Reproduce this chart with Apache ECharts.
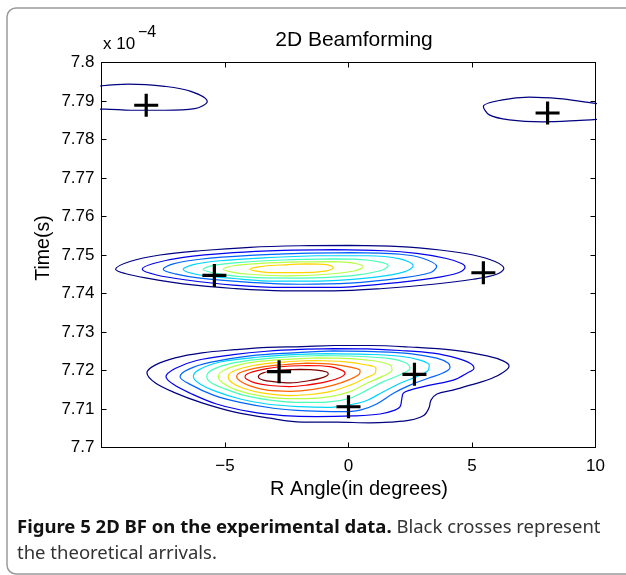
<!DOCTYPE html>
<html><head><meta charset="utf-8">
<script src="https://cdn.jsdelivr.net/npm/echarts@6.0.0/dist/echarts.min.js"></script>
<style>html,body{margin:0;padding:0;background:#fff}#c{width:626px;height:575px}</style>
</head><body><div id="c"></div>
<script>
// ---- data (x: angle in degrees, y: time in units of 1e-4 s) ----
const xTicks = [-10, -5, 0, 5, 10];
const yTicks = [7.70, 7.71, 7.72, 7.73, 7.74, 7.75, 7.76, 7.77, 7.78, 7.79, 7.80];
// 10 contour levels, jet colormap
const levelColors = ['#000080','#0000f1','#0063ff','#00d4ff','#47ffb8','#b8ff47','#ffd400','#ff6300','#f80000','#800000'];

// theoretical arrivals (black crosses)
const arrivals = [[-8.19,7.7889],[8.06,7.7869],[-5.43,7.7447],[5.46,7.7454],[-2.81,7.7197],[2.67,7.7190],[0.0,7.7106]];

// top-left and top-right single contours (level 0)
const topLeft = [[-10.2,7.7938],[-8.91,7.7944],[-7.44,7.7938],[-6.38,7.7925],[-5.72,7.7899],[-6.23,7.7880],[-7.44,7.7876],[-8.81,7.7876],[-9.87,7.7879],[-10.2,7.7879]];
const topRight = [[10.2,7.7892],[9.62,7.7897],[8.53,7.7906],[7.32,7.7910],[6.24,7.7903],[5.46,7.7886],[5.70,7.7864],[6.51,7.7851],[7.86,7.7846],[9.21,7.7849],[10.2,7.7853]];

// middle cluster (around 7.745), levels 0..6
const midL0 = [[0.06,7.7525],[2.09,7.7522],[3.70,7.7513],[5.05,7.7500],[5.93,7.7483],[6.29,7.7465],[6.00,7.7450],[5.05,7.7437],[3.43,7.7424],[1.41,7.7413],[-0.61,7.7407],[-2.64,7.7407],[-4.66,7.7413],[-6.69,7.7425],[-8.17,7.7440],[-9.05,7.7452],[-9.43,7.7463],[-8.85,7.7483],[-7.63,7.7500],[-6.01,7.7511],[-3.99,7.7520],[-1.96,7.7524],[0.06,7.7525]];
const midL1 = [[-0.61,7.7514],[1.41,7.7511],[2.76,7.7504],[3.97,7.7491],[4.58,7.7478],[4.72,7.7468],[4.45,7.7454],[3.43,7.7440],[1.41,7.7425],[-0.61,7.7416],[-2.64,7.7416],[-4.66,7.7422],[-6.55,7.7435],[-7.77,7.7448],[-8.35,7.7463],[-7.90,7.7478],[-6.69,7.7494],[-4.66,7.7506],[-2.64,7.7512],[-0.61,7.7514]];
const midL2 = [[0.06,7.7506],[2.09,7.7502],[3.03,7.7491],[3.57,7.7470],[3.30,7.7454],[2.09,7.7440],[0.06,7.7427],[-1.96,7.7424],[-3.99,7.7429],[-6.01,7.7440],[-7.02,7.7451],[-7.50,7.7463],[-7.09,7.7477],[-6.01,7.7489],[-3.99,7.7499],[-1.96,7.7504],[0.06,7.7506]];
const midL3 = [[-1.29,7.7498],[0.74,7.7498],[2.09,7.7490],[2.62,7.7472],[2.29,7.7457],[1.01,7.7442],[-0.88,7.7433],[-2.91,7.7432],[-4.66,7.7439],[-6.01,7.7448],[-6.69,7.7463],[-6.28,7.7475],[-5.20,7.7485],[-3.31,7.7493],[-1.29,7.7498]];
const midL4 = [[-0.61,7.7490],[0.74,7.7487],[1.61,7.7472],[1.28,7.7459],[0.06,7.7446],[-1.96,7.7440],[-3.72,7.7441],[-5.07,7.7449],[-5.88,7.7463],[-5.47,7.7473],[-4.39,7.7481],[-2.64,7.7487],[-0.61,7.7490]];
const midL5 = [[-0.61,7.7483],[0.20,7.7479],[0.60,7.7470],[0.26,7.7459],[-0.88,7.7450],[-2.50,7.7446],[-3.99,7.7450],[-4.66,7.7455],[-5.07,7.7463],[-4.66,7.7472],[-3.58,7.7478],[-1.96,7.7482],[-0.61,7.7483]];
const midL6 = [[-1.69,7.7477],[-0.88,7.7475],[-0.61,7.7467],[-0.88,7.7459],[-1.96,7.7454],[-3.04,7.7454],[-3.72,7.7458],[-3.99,7.7463],[-3.58,7.7470],[-2.77,7.7474],[-1.69,7.7477]];

// lower cluster (around 7.72), levels 0..9
const lowL0 = [[-0.55,7.7265],[0.87,7.7265],[2.49,7.7261],[4.23,7.7253],[5.61,7.7238],[6.26,7.7225],[6.50,7.7212],[5.85,7.7181],[4.92,7.7162],[4.23,7.7149],[3.58,7.7139],[3.34,7.7123],[3.26,7.7103],[3.06,7.7084],[2.49,7.7071],[1.68,7.7066],[0.87,7.7064],[-0.47,7.7066],[-1.88,7.7066],[-3.26,7.7077],[-4.60,7.7092],[-5.93,7.7116],[-7.02,7.7142],[-7.83,7.7168],[-8.16,7.7194],[-7.83,7.7214],[-7.02,7.7233],[-5.93,7.7246],[-4.60,7.7254],[-3.26,7.7260],[-1.88,7.7262],[-0.55,7.7265]];
const lowL1 = [[-0.61,7.7257],[0.74,7.7256],[2.09,7.7252],[3.43,7.7245],[4.38,7.7232],[4.92,7.7219],[5.08,7.7206],[4.79,7.7193],[4.24,7.7175],[3.30,7.7162],[2.49,7.7149],[2.22,7.7141],[2.15,7.7123],[2.09,7.7106],[1.88,7.7097],[1.28,7.7087],[0.20,7.7082],[-1.29,7.7080],[-2.64,7.7083],[-3.99,7.7093],[-5.34,7.7113],[-6.41,7.7141],[-7.09,7.7164],[-7.39,7.7184],[-7.02,7.7205],[-6.15,7.7226],[-4.66,7.7241],[-3.31,7.7250],[-1.96,7.7255],[-0.61,7.7257]];
const lowL2 = [[-0.61,7.7251],[1.01,7.7249],[2.49,7.7244],[3.57,7.7232],[4.04,7.7219],[4.11,7.7208],[3.84,7.7194],[3.23,7.7180],[2.49,7.7162],[1.82,7.7141],[1.14,7.7113],[0.47,7.7097],[-0.34,7.7093],[-1.69,7.7095],[-3.04,7.7102],[-4.39,7.7117],[-5.47,7.7136],[-6.35,7.7162],[-6.82,7.7184],[-6.48,7.7203],[-5.61,7.7221],[-3.99,7.7238],[-2.23,7.7246],[-0.61,7.7251]];
const lowL3 = [[-0.88,7.7244],[0.74,7.7242],[2.09,7.7237],[2.89,7.7227],[3.27,7.7214],[3.23,7.7201],[2.83,7.7186],[2.09,7.7167],[1.41,7.7145],[0.74,7.7122],[-0.01,7.7110],[-0.88,7.7104],[-1.96,7.7106],[-3.31,7.7113],[-4.39,7.7126],[-5.34,7.7145],[-6.01,7.7165],[-6.28,7.7184],[-6.08,7.7201],[-5.20,7.7222],[-3.58,7.7235],[-2.23,7.7241],[-0.88,7.7244]];
const lowL4 = [[-1.15,7.7239],[0.33,7.7237],[1.68,7.7231],[2.35,7.7219],[2.49,7.7206],[2.15,7.7191],[1.41,7.7171],[0.74,7.7149],[0.06,7.7128],[-0.88,7.7118],[-1.96,7.7117],[-3.18,7.7123],[-4.26,7.7136],[-5.07,7.7154],[-5.57,7.7169],[-5.74,7.7184],[-5.54,7.7201],[-4.66,7.7220],[-3.04,7.7233],[-1.15,7.7239]];
const lowL5 = [[-1.29,7.7233],[0.06,7.7231],[1.14,7.7224],[1.71,7.7213],[1.76,7.7201],[1.41,7.7186],[0.74,7.7167],[0.06,7.7145],[-0.75,7.7132],[-1.69,7.7127],[-2.50,7.7127],[-3.58,7.7134],[-4.53,7.7149],[-5.07,7.7167],[-5.27,7.7184],[-5.07,7.7200],[-4.12,7.7219],[-2.77,7.7228],[-1.29,7.7233]];
const lowL6 = [[-1.42,7.7226],[-0.21,7.7223],[0.67,7.7215],[1.11,7.7206],[1.09,7.7194],[0.67,7.7180],[0.06,7.7162],[-0.75,7.7145],[-1.69,7.7137],[-2.37,7.7135],[-3.45,7.7141],[-4.26,7.7154],[-4.73,7.7169],[-4.87,7.7184],[-4.66,7.7198],[-3.85,7.7213],[-2.64,7.7222],[-1.42,7.7226]];
const lowL7 = [[-1.69,7.7219],[-0.61,7.7216],[0.13,7.7208],[0.47,7.7200],[0.44,7.7191],[0.06,7.7177],[-0.61,7.7162],[-1.42,7.7151],[-2.37,7.7146],[-3.31,7.7149],[-3.99,7.7160],[-4.39,7.7173],[-4.53,7.7184],[-4.33,7.7196],[-3.58,7.7208],[-2.64,7.7215],[-1.69,7.7219]];
const lowL8 = [[-1.69,7.7213],[-0.75,7.7210],[-0.28,7.7201],[-0.14,7.7193],[-0.34,7.7182],[-0.88,7.7171],[-1.69,7.7162],[-2.37,7.7158],[-3.18,7.7161],[-3.79,7.7168],[-4.12,7.7177],[-4.19,7.7184],[-3.99,7.7194],[-3.31,7.7205],[-2.50,7.7211],[-1.69,7.7213]];
const lowL9 = [[-1.96,7.7203],[-1.29,7.7201],[-0.88,7.7196],[-0.82,7.7191],[-1.02,7.7182],[-1.56,7.7174],[-2.37,7.7168],[-3.04,7.7171],[-3.45,7.7175],[-3.65,7.7184],[-3.45,7.7194],[-2.91,7.7200],[-1.96,7.7203]];

const contourLines = [
  [topLeft,0],[topRight,0],
  [midL0,0],[midL1,1],[midL2,2],[midL3,3],[midL4,4],[midL5,5],[midL6,6],
  [lowL0,0],[lowL1,1],[lowL2,2],[lowL3,3],[lowL4,4],[lowL5,5],[lowL6,6],[lowL7,7],[lowL8,8],[lowL9,9]
];

// ---- chart ----
const chart = echarts.init(document.getElementById('c'), null, {renderer:'canvas'});
const FONT = '"Liberation Sans", Arial, Helvetica, sans-serif';
const CAP = '"Noto Sans", "Open Sans", sans-serif';

function fmtX(v){ if (v === xTicks[0]) return ''; return v < 0 ? '\u2212' + Math.abs(v) : String(v); }
function fmtY(v){ return String(+(+v).toFixed(2)); }

const series = contourLines.map(([d, lv]) => ({
  type:'line', data:d, showSymbol:false, smooth:0.35, clip:true, silent:true,
  lineStyle:{color:levelColors[lv], width:1.2}, z:2
}));
series.push({
  type:'scatter', data:arrivals, z:5, silent:true,
  symbol:'path://M10.4,0H13.6V10.4H24V13.6H13.6V24H10.4V13.6H0V10.4H10.4Z',
  symbolSize:[24,23], itemStyle:{color:'#000', opacity:1}
});

// caption measurement
const mc = document.createElement('canvas').getContext('2d');
const capBold = 'Figure 5 2D BF on the experimental data.';
const capReg1 = ' Black crosses represent';
const capReg2 = 'the theoretical arrivals.';
const capSize = 18.5;
mc.font = 'bold ' + capSize + 'px "Noto Sans"';
const boldW = mc.measureText(capBold).width;

const axisCommon = {
  axisLine:{show:true, onZero:false, lineStyle:{color:'#000', width:1}},
  axisTick:{show:true, inside:true, length:5, lineStyle:{color:'#000', width:1}},
  splitLine:{show:false}
};

chart.setOption({
  animation:false,
  backgroundColor:'#fff',
  grid:{left:101.5, right:30.5, top:62.5, bottom:127.5, containLabel:false},
  xAxis:[
    Object.assign({type:'value', position:'bottom', min:xTicks[0], max:xTicks[xTicks.length-1], interval:5,
      axisLabel:{show:true, formatter:fmtX, color:'#000', fontSize:17, fontFamily:FONT, margin:10, showMinLabel:true, showMaxLabel:true}}, axisCommon),
    Object.assign({type:'value', position:'top', min:xTicks[0], max:xTicks[xTicks.length-1], interval:5,
      axisLabel:{show:false}}, axisCommon)
  ],
  yAxis:[
    Object.assign({type:'value', position:'left', min:yTicks[0], max:yTicks[yTicks.length-1], interval:0.01,
      axisLabel:{show:true, formatter:fmtY, color:'#000', fontSize:17, fontFamily:FONT, margin:7, showMinLabel:true, showMaxLabel:true}}, axisCommon),
    Object.assign({type:'value', position:'right', min:yTicks[0], max:yTicks[yTicks.length-1], interval:0.01,
      axisLabel:{show:false}}, axisCommon)
  ],
  series:series,
  graphic:[
    {type:'rect', silent:true, shape:{x:7, y:8, width:640, height:566, r:9}, style:{fill:'none', stroke:'#9a9a9a', lineWidth:1.5}},
    {type:'text', silent:true, x:354, y:40, style:{text:'2D Beamforming', font:'21px ' + FONT, fill:'#000', textAlign:'center', textVerticalAlign:'middle'}},
    {type:'text', silent:true, x:103, y:44, style:{text:'x 10', font:'17px ' + FONT, fill:'#000', textAlign:'left', textVerticalAlign:'middle'}},
    {type:'text', silent:true, x:138, y:33, style:{text:'\u22124', font:'16px ' + FONT, fill:'#000', textAlign:'left', textVerticalAlign:'middle'}},
    {type:'text', silent:true, x:359, y:489, style:{text:'R Angle(in degrees)', font:'20px ' + FONT, fill:'#000', textAlign:'center', textVerticalAlign:'middle'}},
    {type:'text', silent:true, x:44, y:248, rotation:Math.PI/2, style:{text:'Time(s)', font:'19.5px ' + FONT, fill:'#000', textAlign:'center', textVerticalAlign:'middle'}},
    {type:'text', silent:true, x:17, y:528, style:{text:capBold, font:'bold ' + capSize + 'px ' + CAP, fill:'#111', textAlign:'left', textVerticalAlign:'middle'}},
    {type:'text', silent:true, x:17 + boldW, y:528, style:{text:capReg1, font:capSize + 'px ' + CAP, fill:'#333', textAlign:'left', textVerticalAlign:'middle'}},
    {type:'text', silent:true, x:17, y:554, style:{text:capReg2, font:capSize + 'px ' + CAP, fill:'#333', textAlign:'left', textVerticalAlign:'middle'}}
  ]
});
</script>
</body></html>
